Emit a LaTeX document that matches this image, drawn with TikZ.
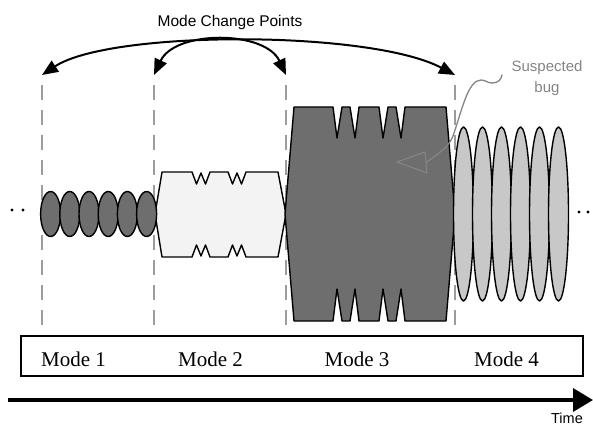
\documentclass[tikz,border=0pt]{standalone}
\usepackage{fontspec}
\setmainfont{Liberation Serif}
\newfontfamily\sansf{Liberation Sans}
\usetikzlibrary{arrows.meta,calc}
\definecolor{darkfill}{HTML}{6E6E6E}
\definecolor{lightfill}{HTML}{F3F3F3}
\definecolor{ellfill}{HTML}{C8C8C8}
\definecolor{dashgray}{HTML}{9C9C9C}
\definecolor{callgray}{HTML}{858585}
\tikzset{
  shapeline/.style={draw=black, line width=1.4pt, line join=round},
  modeguide/.style={draw=dashgray, line width=2pt, dash pattern=on 15pt off 10pt},
  changearrow/.style={draw=black, line width=2pt, {Triangle[length=16pt,width=13pt]}-{Triangle[length=16pt,width=13pt]}},
  modelabel/.style={font=\fontsize{21}{24}\selectfont, inner sep=0pt},
  dotmark/.style={fill=black, draw=none},
}
\begin{document}
\begin{tikzpicture}[x=1pt,y=-1pt]
\useasboundingbox (0,0) rectangle (593,427);

% guide coordinates
\coordinate (g1) at (42,75);
\coordinate (g2) at (154,75);
\coordinate (g3) at (286,75);
\coordinate (g4) at (455,75);
\coordinate (b1) at (42,336);
\coordinate (b2) at (154,336);
\coordinate (b3) at (286,336);
\coordinate (b4) at (455,336);

% dashed guides
\foreach \i in {1,2,3,4} {
  \draw[modeguide] ($(g\i)+(0,10)$) -- (b\i);
}

% Mode 2 shape
\draw[shapeline, fill=lightfill]
 (162,172) -- (192,172) -- (196.5,184) -- (201,173) -- (205.5,184) -- (210,172)
 -- (228,172) -- (232.5,184) -- (237,173) -- (241.5,184) -- (246,172) -- (278,172)
 -- (286,214) -- (278,257) -- (246,257) -- (241.5,245) -- (237,256) -- (232.5,245)
 -- (228,257) -- (210,257) -- (205.5,245) -- (201,256) -- (196.5,245) -- (192,257)
 -- (162,257) -- (155,214) -- cycle;

% Mode 1 ellipses
\foreach \k in {0,...,5} {
  \draw[shapeline, fill=darkfill] (50.6+19.2*\k,214) ellipse [x radius=10, y radius=22.5];
}

% Mode 3 shape
\draw[shapeline, fill=darkfill]
 (294,107) -- (333,107) -- (337,138) -- (342,107) -- (350,107) -- (355,138) -- (359,107)
 -- (379,107) -- (383,138) -- (388,107) -- (396,107) -- (401,138) -- (405,107) -- (446,107)
 -- (455,214) -- (446,321)
 -- (405,321) -- (401,289) -- (396,321) -- (388,321) -- (383,289) -- (379,321)
 -- (359,321) -- (355,289) -- (350,321) -- (342,321) -- (337,289) -- (333,321)
 -- (294,321) -- (285,214) -- cycle;

% Mode 4 ellipses
\foreach \k in {0,...,5} {
  \draw[shapeline, fill=ellfill] (463.5+19*\k,214) ellipse [x radius=10, y radius=87];
}

% suspected bug callout
\node[font=\sansf\fontsize{15}{20.5}\selectfont, text=callgray, align=center, inner sep=0pt]
  (bug) at (547,78) {Suspected\\bug};
\coordinate (bugtail) at (426,162.5);
\draw[callgray, line width=1.3pt, line cap=round]
  (502,75) .. controls (501,80) and (498,83) .. (492,83)
  .. controls (487,83) and (486,80) .. (481,80)
  .. controls (468,80) and (462,110) .. (453,136)
  .. controls (448,148) and (440,152) .. (bugtail);
\draw[callgray, line width=1.1pt, line join=round]
  (397,162) -- (425,152) -- (427,173) -- cycle;

% mode change arrows
\node[font=\sansf\fontsize{15.5}{18}\selectfont, inner sep=0pt] (title) at (230,22) {Mode Change Points};
\draw[changearrow] (g1) .. controls (110,30) and (370,30) .. (g4);
\draw[changearrow] (g2) .. controls (175,30) and (265,30) .. (g3);

% dots
\fill[dotmark] (12,210) circle (1.6);
\fill[dotmark] (23,210) circle (1.6);
\fill[dotmark] (579,212) circle (1.6);
\fill[dotmark] (588,212) circle (1.6);

% mode box
\node[draw=black, line width=1.4pt, minimum width=562pt, minimum height=40pt, inner sep=0pt]
  (modebox) at (302,356) {};
\node[modelabel] (m1) at (73.5,359) {Mode 1};
\node[modelabel] (m2) at (210.5,359) {Mode 2};
\node[modelabel] (m3) at (357,359) {Mode 3};
\node[modelabel] (m4) at (506.5,359) {Mode 4};

% time axis
\coordinate (t0) at (8,400);
\coordinate (t1) at (593,400);
\draw[line width=3.5pt, -{Triangle[length=20pt,width=23pt]}] (t0) -- (t1);
\node[font=\sansf\fontsize{14.5}{17}\selectfont, inner sep=0pt, anchor=base] (time) at (567,423) {Time};
\end{tikzpicture}
\end{document}
